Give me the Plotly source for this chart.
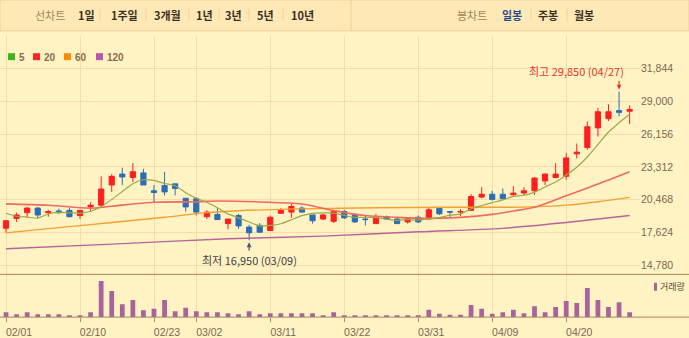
import plotly.graph_objects as go

# ---------------- data ----------------
dates = ["02/01", "02/02", "02/03", "02/04", "02/05", "02/08", "02/09", "02/10",
         "02/15", "02/16", "02/17", "02/18", "02/19", "02/22", "02/23", "02/24",
         "02/25", "02/26", "03/02", "03/03", "03/04", "03/05", "03/08", "03/09",
         "03/10", "03/11", "03/12", "03/15", "03/16", "03/17", "03/18", "03/19",
         "03/22", "03/23", "03/24", "03/25", "03/26", "03/29", "03/30", "03/31",
         "04/01", "04/02", "04/05", "04/06", "04/07", "04/08", "04/09", "04/12",
         "04/13", "04/14", "04/15", "04/16", "04/19", "04/20", "04/21", "04/22",
         "04/23", "04/26", "04/27", "04/28"]

opens = [18000, 18850, 19350, 19750, 19350, 19500, 19550, 19100, 19850, 20000,
         21750, 22700, 22400, 22800, 21250, 21700, 21850, 20600, 20550, 19000,
         19200, 18400, 19100, 18100, 18250, 17800, 19300, 19400, 19750, 19150,
         18800, 18600, 19450, 19150, 18800, 18400, 19000, 18800, 18550, 18950,
         18800, 19750, 19450, 19400, 19550, 20700, 20950, 20950, 20900, 21050,
         21250, 22100, 22400, 22500, 24450, 25000, 26700, 27500, 28200, 28150]
highs = [18700, 19350, 19850, 19850, 19600, 19700, 19750, 19600, 20250, 22500,
         22700, 23250, 23650, 23150, 21750, 22900, 21850, 20600, 20700, 19550,
         19750, 18800, 19250, 18300, 18450, 19100, 19750, 20100, 19900, 19150,
         19250, 19600, 19600, 19300, 19100, 19250, 19100, 18900, 18950, 19100,
         19750, 19850, 19450, 19650, 20950, 21550, 21250, 21450, 21650, 21550,
         22450, 22750, 23650, 24500, 25350, 27250, 28450, 28750, 29850, 28650]
lows = [17600, 18550, 18950, 18900, 19000, 19250, 18950, 18800, 19450, 19800,
        21150, 21750, 22000, 21750, 20250, 20850, 20850, 19450, 19100, 18800,
        18750, 17900, 17950, 16950, 17650, 17800, 19250, 18900, 19350, 18400,
        18700, 18450, 18800, 18450, 18250, 18400, 18750, 18400, 18400, 18450,
        18800, 19150, 18950, 19050, 19550, 20600, 20400, 20550, 20850, 20850,
        20900, 21750, 22350, 22200, 24050, 24800, 25950, 27300, 27700, 27050]
closes = [18650, 19150, 19750, 19150, 19450, 19350, 19000, 19550, 20000, 21400,
          22500, 22450, 22900, 21750, 21100, 21150, 21450, 19850, 19400, 19400,
          18750, 18800, 18200, 17600, 17650, 18950, 19550, 19900, 19400, 18650,
          19150, 19450, 18900, 18550, 18750, 18950, 18800, 18400, 18850, 18550,
          19600, 19250, 19400, 19450, 20750, 20950, 20500, 20550, 21050, 21250,
          22350, 22700, 22700, 24100, 24600, 26800, 28100, 28100, 28050, 28300]
volumes = [500000, 300000, 500000, 300000, 300000, 300000, 200000, 200000, 500000, 3630000,
           2630000, 1300000, 1730000, 700000, 830000, 1730000, 600000, 930000, 600000, 500000,
           500000, 400000, 300000, 600000, 300000, 400000, 400000, 400000, 400000, 400000,
           200000, 500000, 170000, 200000, 200000, 200000, 130000, 200000, 200000, 130000,
           730000, 330000, 230000, 230000, 1230000, 830000, 330000, 500000, 730000, 400000,
           1100000, 500000, 1030000, 1630000, 1430000, 2930000, 1730000, 1030000, 1500000, 500000]

ma5 = [19300, 19040, 18960, 18880, 19236, 19370, 19340, 19298, 19470, 19858,
       20492, 21182, 21856, 22206, 22148, 21882, 21682, 21076, 20600, 20256,
       19772, 19242, 18904, 18546, 18200, 18242, 18386, 18732, 19090, 19291,
       19330, 19312, 19110, 18938, 18955, 18916, 18790, 18686, 18754, 18710,
       18838, 18924, 19126, 19247, 19695, 19969, 20217, 20446, 20762, 20859,
       21135, 21579, 22012, 22616, 23289, 24181, 25263, 26344, 27144, 27881]
ma20_dates = ["02/01", "02/05", "02/15", "02/17", "02/23", "03/02", "03/04", "03/10",
              "03/16", "03/19", "03/24", "03/29", "04/01", "04/06", "04/09", "04/13",
              "04/15", "04/20", "04/23", "04/28"]
ma20_vals = [20110, 19990, 19740, 19910, 20250, 20300, 20360, 20280,
             20100, 19530, 19100, 18940, 18850, 18940, 19200, 19500,
             19820, 20820, 21830, 22900]
ma60_dates = ["02/01", "02/08", "02/17", "02/24", "03/03", "03/08", "03/16",
              "03/25", "04/05", "04/14", "04/20", "04/23", "04/28"]
ma60_vals = [17600, 18050, 18500, 18950, 19350, 19520, 19680,
             19780, 19820, 19830, 20000, 20300, 20680]
ma120_dates = ["02/01", "02/17", "03/05", "03/18", "03/31", "04/12", "04/20", "04/28"]
ma120_vals = [16220, 16620, 17090, 17320, 17690, 17990, 18500, 19100]

price_ticks = [14780, 17624, 20468, 23312, 26156, 29000, 31844]
date_ticks = ["02/01", "02/10", "02/23", "03/02", "03/11", "03/22", "03/31", "04/09", "04/20"]

high_label = "최고 29,850 (04/27)"
low_label = "최저 16,950 (03/09)"
period_items = ["1일", "1주일", "3개월", "1년", "3년", "5년", "10년"]
candle_items = ["일봉", "주봉", "월봉"]
ma_legend = [("5", "#3cb521"), ("20", "#ff2626"), ("60", "#ff8a00"), ("120", "#b45aa8")]

# ---------------- layout helpers ----------------
W, H = 689, 338
PLOT_R = 640


def px(x):
    return x / W


def py(y):
    return 1 - y / H


BG = "#fff3c4"
GRID = "#f8dbac"
TXT = "#7a6852"
KFONT = "Noto Sans CJK KR"
NFONT = "Liberation Sans, Noto Sans CJK KR"

fig = go.Figure()

# moving averages
fig.add_trace(go.Scatter(x=ma120_dates, y=ma120_vals, mode="lines",
                         line=dict(color="#b8649a", width=1.4, shape="spline", smoothing=0.8),
                         hoverinfo="skip", xaxis="x", yaxis="y"))
fig.add_trace(go.Scatter(x=ma60_dates, y=ma60_vals, mode="lines",
                         line=dict(color="#f5a032", width=1.4, shape="spline", smoothing=0.8),
                         hoverinfo="skip", xaxis="x", yaxis="y"))
fig.add_trace(go.Scatter(x=ma20_dates, y=ma20_vals, mode="lines",
                         line=dict(color="#f06a5e", width=1.6, shape="spline", smoothing=0.8),
                         hoverinfo="skip", xaxis="x", yaxis="y"))
fig.add_trace(go.Scatter(x=dates, y=ma5, mode="lines",
                         line=dict(color="#9aaa45", width=1.2, shape="spline", smoothing=0.6),
                         hoverinfo="skip", xaxis="x", yaxis="y"))

# candles
fig.add_trace(go.Candlestick(
    x=dates, open=opens, high=highs, low=lows, close=closes,
    increasing=dict(line=dict(color="#ff1e1e", width=1), fillcolor="#ff1e1e"),
    decreasing=dict(line=dict(color="#2c6db5", width=1), fillcolor="#2c6db5"),
    whiskerwidth=0, xaxis="x", yaxis="y"))

# volume
fig.add_trace(go.Bar(x=dates, y=volumes, marker=dict(color="#a8629e", line=dict(width=0)),
                     width=0.45, xaxis="x2", yaxis="y2", hoverinfo="skip"))

xrange = [-0.57, 59.98]
fig.update_layout(
    width=W, height=H,
    margin=dict(l=0, r=0, t=0, b=0),
    paper_bgcolor=BG, plot_bgcolor=BG,
    showlegend=False,
    font=dict(family=NFONT, size=11, color=TXT),
    xaxis=dict(domain=[0, px(PLOT_R)], type="category", categoryorder="array",
               categoryarray=dates, range=xrange, rangeslider=dict(visible=False),
               tickmode="array", tickvals=date_ticks, showticklabels=False,
               showgrid=True, gridcolor=GRID, gridwidth=1, zeroline=False,
               showline=False, ticks="", anchor="y", fixedrange=True),
    yaxis=dict(domain=[py(276), py(36)], range=[14000, 34690], side="right",
               tickmode="array", tickvals=price_ticks, tickformat=",d",
               showgrid=True, gridcolor=GRID, gridwidth=1, zeroline=False,
               showline=False, ticks="", anchor="x",
               tickfont=dict(family=NFONT, size=10.5, color=TXT)),
    xaxis2=dict(domain=[0, px(PLOT_R)], type="category", categoryorder="array",
                categoryarray=dates, range=xrange, matches="x",
                tickmode="array", tickvals=date_ticks, showticklabels=True,
                ticks="outside", ticklen=4, tickcolor="#b08a66", tickwidth=1,
                ticklabelshift=13, ticklabelstandoff=1,
                tickfont=dict(family=NFONT, size=10.5, color=TXT),
                showgrid=True, gridcolor=GRID, gridwidth=1, zeroline=False,
                showline=False, anchor="y2"),
    yaxis2=dict(domain=[py(319), py(276)], range=[0, 4300000],
                showgrid=False, zeroline=False, showticklabels=False,
                ticks="", showline=False, anchor="x2"),
)

shapes = []
annotations = []


def label(text, x, y, size, color, family=KFONT, xanchor="center"):
    annotations.append(dict(text=text, x=px(x), y=py(y), xref="paper", yref="paper",
                            xanchor=xanchor, yanchor="middle", showarrow=False,
                            font=dict(family=family, size=size, color=color)))


# top bar
shapes.append(dict(type="rect", xref="paper", yref="paper", x0=0, x1=1,
                   y0=py(31), y1=py(0), fillcolor="#fee8b6",
                   line=dict(color="#f1cd94", width=1), layer="below"))
shapes.append(dict(type="line", xref="paper", yref="paper", x0=px(351), x1=px(351),
                   y0=py(31), y1=py(0), line=dict(color="#f1cd94", width=1)))

label("선차트", 50, 15, 11, "#a3845e")
period_x = [86, 124, 167, 204, 233, 265, 302]
for t, xc in zip(period_items, period_x):
    label("<b>%s</b>" % t, xc, 15, 11, "#3b2f22")
for xs in [100, 146, 189, 219, 249, 283, 531, 567]:
    shapes.append(dict(type="line", xref="paper", yref="paper", x0=px(xs), x1=px(xs),
                       y0=py(21), y1=py(9), line=dict(color="#f0cf9a", width=1)))
label("봉차트", 472, 15, 11, "#a3845e")
for t, xc, col in zip(candle_items, [512, 548, 584], ["#2a4c8c", "#3b2f22", "#3b2f22"]):
    label("<b>%s</b>" % t, xc, 15, 11, col)

# MA legend
sq_x = [8, 33, 64, 96]
tx_x = [16.5, 41.5, 73, 105]
for (lab, col), sx, tx in zip(ma_legend, sq_x, tx_x):
    shapes.append(dict(type="rect", xref="paper", yref="paper", x0=px(sx), x1=px(sx + 7),
                       y0=py(60.5), y1=py(53.5), fillcolor=col, line=dict(width=0)))
    label("<b>%s</b>" % lab, tx, 57.5, 10, "#8a6d4c", family=NFONT, xanchor="left")

# panel separator lines
for yy in [276, 319]:
    shapes.append(dict(type="line", xref="paper", yref="paper", x0=0, x1=1,
                       y0=py(yy), y1=py(yy), line=dict(color="#a88060", width=1)))

# volume legend
shapes.append(dict(type="rect", xref="paper", yref="paper", x0=px(654), x1=px(657),
                   y0=py(292.5), y1=py(284.5), fillcolor="#a8629e", line=dict(width=0)))
label("거래량", 658, 288.5, 9, "#5a4a3a", xanchor="left")

# high / low markers
hi_i = highs.index(max(highs))
lo_i = lows.index(min(lows))
annotations.append(dict(x=dates[hi_i], y=highs[hi_i], xref="x", yref="y", text="",
                        showarrow=True, arrowhead=2, arrowsize=0.8, arrowwidth=1.2,
                        arrowcolor="#e8332a", ax=0, ay=-12, standoff=2))
annotations.append(dict(x=dates[hi_i], y=highs[hi_i], xref="x", yref="y", text=high_label,
                        showarrow=False, xanchor="right", yanchor="bottom", xshift=7, yshift=11,
                        font=dict(family=KFONT, size=11, color="#e8332a")))
annotations.append(dict(x=dates[lo_i], y=lows[lo_i], xref="x", yref="y", text="",
                        showarrow=True, arrowhead=2, arrowsize=0.8, arrowwidth=1.2,
                        arrowcolor="#4a5a6a", ax=0, ay=12, standoff=2))
annotations.append(dict(x=dates[lo_i], y=lows[lo_i], xref="x", yref="y", text=low_label,
                        showarrow=False, xanchor="center", yanchor="top", yshift=-10,
                        font=dict(family=KFONT, size=11, color="#444444")))

fig.update_layout(shapes=shapes, annotations=annotations)
fig.write_html("out.html")
